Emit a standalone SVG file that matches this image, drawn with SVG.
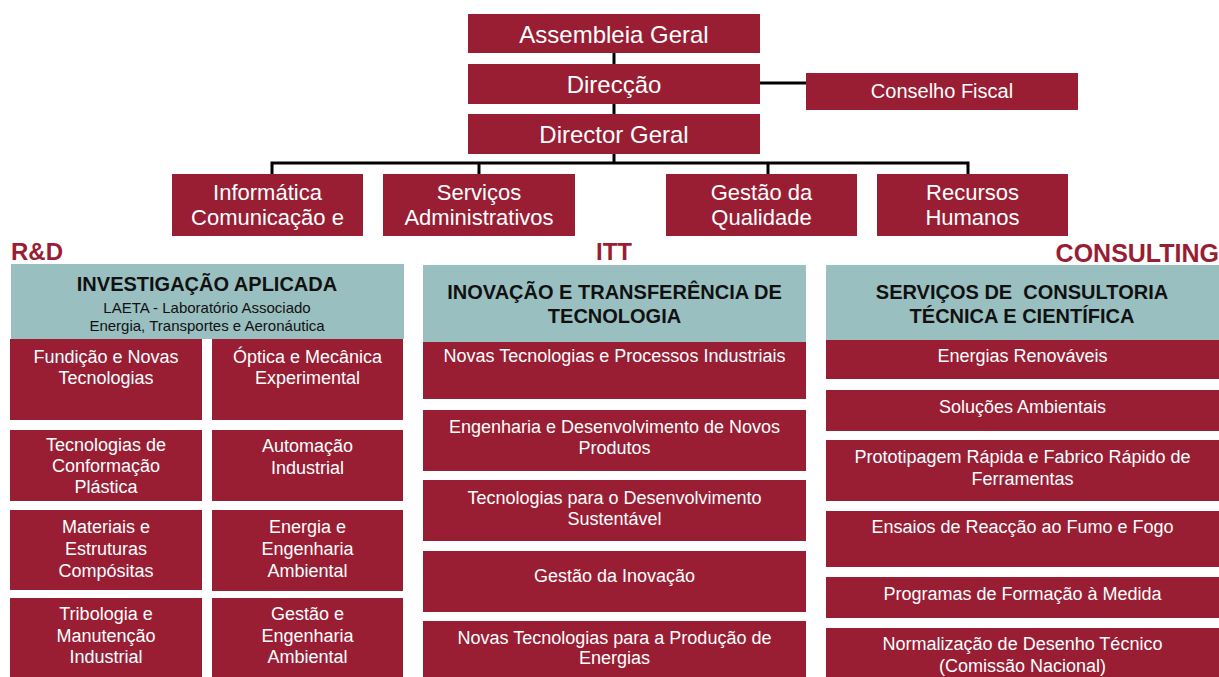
<svg xmlns="http://www.w3.org/2000/svg" width="1219" height="677" viewBox="0 0 1219 677">
<style>
.r{fill:#991e33}
.h{fill:#99bfc0}
.w{fill:#fff;font-family:"Liberation Sans",Arial,sans-serif;text-anchor:middle}
.t1{font-size:24px}
.t2{font-size:22px}
.b{font-size:18px}
.hd{fill:#111;font-family:"Liberation Sans",Arial,sans-serif;font-weight:bold;font-size:20px;text-anchor:middle}
.sub{fill:#111;font-family:"Liberation Sans",Arial,sans-serif;font-size:15px;text-anchor:middle}
.lab{fill:#991e33;font-family:"Liberation Sans",Arial,sans-serif;font-weight:bold;font-size:24px}
.c{stroke:#000;stroke-width:3;fill:none}
</style>
<rect width="1219" height="677" fill="#fff"/>
<g id="connectors">
<line class="c" x1="614" y1="53" x2="614" y2="64"/>
<line class="c" x1="614" y1="103" x2="614" y2="114"/>
<line class="c" x1="760" y1="83" x2="806" y2="83"/>
<line class="c" x1="614" y1="153" x2="614" y2="163"/>
<polyline class="c" points="272,174 272,163 968,163 968,174"/>
<line class="c" x1="479" y1="163" x2="479" y2="174"/>
<line class="c" x1="768" y1="163" x2="768" y2="174"/>
</g>
<g id="assembleia"><rect class="r" x="468" y="14" width="292" height="39"/><text class="w t1" x="614" y="43">Assembleia Geral</text></g>
<g id="direccao"><rect class="r" x="468" y="64" width="292" height="40"/><text class="w t1" x="614" y="93">Direcção</text></g>
<g id="director"><rect class="r" x="468" y="114" width="292" height="40"/><text class="w t1" x="614" y="143">Director Geral</text></g>
<g id="conselho"><rect class="r" x="806" y="73" width="272" height="37"/><text class="w" style="font-size:20px" x="942" y="98">Conselho Fiscal</text></g>
<g id="informatica"><rect class="r" x="172" y="174" width="191" height="62"/><text class="w t2" x="267.5" y="200">Informática</text><text class="w t2" x="267.5" y="225">Comunicação e</text></g>
<g id="servicos"><rect class="r" x="383" y="174" width="192" height="62"/><text class="w t2" x="479" y="200">Serviços</text><text class="w t2" x="479" y="225">Administrativos</text></g>
<g id="gestao-qualidade"><rect class="r" x="666" y="174" width="191" height="62"/><text class="w t2" x="761.5" y="200">Gestão da</text><text class="w t2" x="761.5" y="225">Qualidade</text></g>
<g id="recursos"><rect class="r" x="877" y="174" width="191" height="62"/><text class="w t2" x="972.5" y="200">Recursos</text><text class="w t2" x="972.5" y="225">Humanos</text></g>

<text class="lab" x="11" y="260">R&amp;D</text>
<text class="lab" x="614" y="260" text-anchor="middle">ITT</text>
<text class="lab" x="1219" y="262" text-anchor="end" style="font-size:25px">CONSULTING</text>

<g id="rd-header"><rect class="h" x="11" y="264" width="393" height="75"/><text class="hd" x="207" y="291">INVESTIGAÇÃO APLICADA</text><text class="sub" x="207" y="313">LAETA - Laboratório Associado</text><text class="sub" x="207" y="331">Energia, Transportes e Aeronáutica</text></g>
<g id="rd1"><rect class="r" x="10" y="339" width="192" height="81"/><text class="w b" x="106" y="363">Fundição e Novas</text><text class="w b" x="106" y="384">Tecnologias</text></g>
<g id="rd2"><rect class="r" x="212" y="339" width="191" height="81"/><text class="w b" x="307.5" y="363">Óptica e Mecânica</text><text class="w b" x="307.5" y="384">Experimental</text></g>
<g id="rd3"><rect class="r" x="10" y="430" width="192" height="71"/><text class="w b" x="106" y="451">Tecnologias de</text><text class="w b" x="106" y="472">Conformação</text><text class="w b" x="106" y="493">Plástica</text></g>
<g id="rd4"><rect class="r" x="212" y="430" width="191" height="71"/><text class="w b" x="307.5" y="452">Automação</text><text class="w b" x="307.5" y="474">Industrial</text></g>
<g id="rd5"><rect class="r" x="10" y="510" width="192" height="80"/><text class="w b" x="106" y="533">Materiais e</text><text class="w b" x="106" y="555">Estruturas</text><text class="w b" x="106" y="577">Compósitas</text></g>
<g id="rd6"><rect class="r" x="212" y="510" width="191" height="81"/><text class="w b" x="307.5" y="533">Energia e</text><text class="w b" x="307.5" y="555">Engenharia</text><text class="w b" x="307.5" y="577">Ambiental</text></g>
<g id="rd7"><rect class="r" x="10" y="598" width="192" height="79"/><text class="w b" x="106" y="620">Tribologia e</text><text class="w b" x="106" y="642">Manutenção</text><text class="w b" x="106" y="663">Industrial</text></g>
<g id="rd8"><rect class="r" x="212" y="598" width="191" height="79"/><text class="w b" x="307.5" y="620">Gestão e</text><text class="w b" x="307.5" y="642">Engenharia</text><text class="w b" x="307.5" y="663">Ambiental</text></g>

<g id="itt-header"><rect class="h" x="423" y="265" width="383" height="77"/><text class="hd" x="614.5" y="299">INOVAÇÃO E TRANSFERÊNCIA DE</text><text class="hd" x="614.5" y="323">TECNOLOGIA</text></g>
<g id="itt1"><rect class="r" x="423" y="342" width="383" height="57"/><text class="w b" x="614.5" y="362">Novas Tecnologias e Processos Industriais</text></g>
<g id="itt2"><rect class="r" x="423" y="410" width="383" height="61"/><text class="w b" x="614.5" y="433">Engenharia e Desenvolvimento de Novos</text><text class="w b" x="614.5" y="454">Produtos</text></g>
<g id="itt3"><rect class="r" x="423" y="480" width="383" height="61"/><text class="w b" x="614.5" y="504">Tecnologias para o Desenvolvimento</text><text class="w b" x="614.5" y="525">Sustentável</text></g>
<g id="itt4"><rect class="r" x="423" y="551" width="383" height="61"/><text class="w b" x="614.5" y="582">Gestão da Inovação</text></g>
<g id="itt5"><rect class="r" x="423" y="621" width="383" height="56"/><text class="w b" x="614.5" y="644">Novas Tecnologias para a Produção de</text><text class="w b" x="614.5" y="664">Energias</text></g>

<g id="cons-header"><rect class="h" x="826" y="265" width="393" height="75"/><text class="hd" x="1022" y="299">SERVIÇOS DE&#160; CONSULTORIA</text><text class="hd" x="1022" y="323">TÉCNICA E CIENTÍFICA</text></g>
<g id="cons1"><rect class="r" x="826" y="340" width="393" height="39"/><text class="w b" x="1022.5" y="362">Energias Renováveis</text></g>
<g id="cons2"><rect class="r" x="826" y="390" width="393" height="41"/><text class="w b" x="1022.5" y="413">Soluções Ambientais</text></g>
<g id="cons3"><rect class="r" x="826" y="440" width="393" height="61"/><text class="w b" x="1022.5" y="463">Prototipagem Rápida e Fabrico Rápido de</text><text class="w b" x="1022.5" y="485">Ferramentas</text></g>
<g id="cons4"><rect class="r" x="826" y="511" width="393" height="56"/><text class="w b" x="1022.5" y="533">Ensaios de Reacção ao Fumo e Fogo</text></g>
<g id="cons5"><rect class="r" x="826" y="577" width="393" height="41"/><text class="w b" x="1022.5" y="600">Programas de Formação à Medida</text></g>
<g id="cons6"><rect class="r" x="826" y="628" width="393" height="49"/><text class="w b" x="1022.5" y="650">Normalização de Desenho Técnico</text><text class="w b" x="1022.5" y="672">(Comissão Nacional)</text></g>
</svg>
